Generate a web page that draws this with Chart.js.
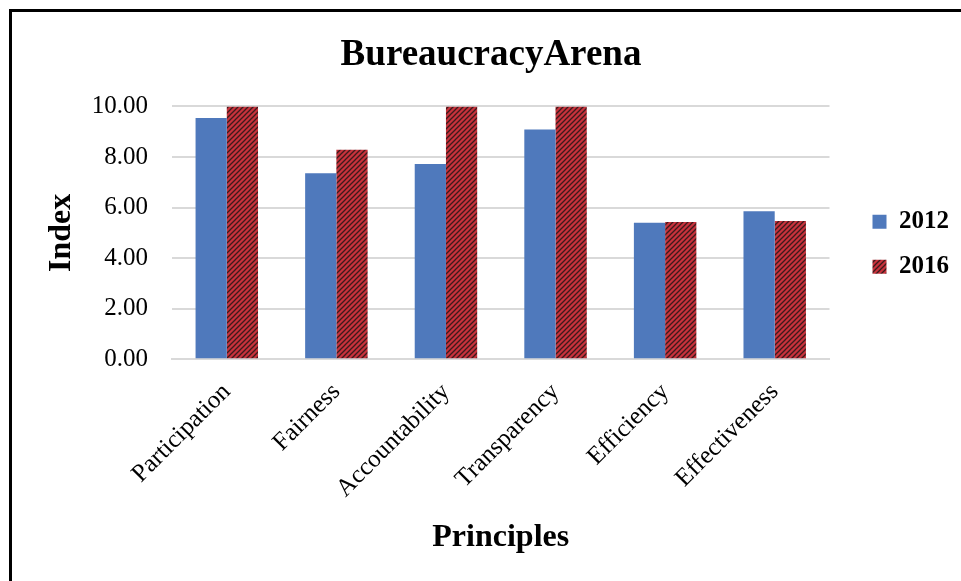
<!DOCTYPE html>
<html>
<head>
<meta charset="utf-8">
<script src="https://cdn.jsdelivr.net/npm/chart.js@4.4.1/dist/chart.umd.min.js"></script>
<style>
  html, body { margin: 0; padding: 0; background: #fff; overflow: hidden; }
  #wrap { position: relative; width: 961px; height: 581px; overflow: hidden; }
  #frame { position: absolute; left: 9px; top: 9px; width: 1000px; height: 700px;
           border-left: 3px solid #000; border-top: 3px solid #000; }
  #box { position: absolute; left: 0; top: 0; width: 959px; height: 581px; }
</style>
</head>
<body>
<div id="wrap">
  <div id="frame"></div>
  <div id="box"><canvas id="chartPrinciplesHTML"></canvas></div>
</div>
<script>
// values
const principles = ['Participation', 'Fairness', 'Accountability', 'Transparency', 'Efficiency', 'Effectiveness'];
const seriesNames = ['2012', '2016'];
const values2012 = [9.54, 7.36, 7.72, 9.09, 5.40, 5.85];
const values2016 = [10.00, 8.29, 10.00, 10.00, 5.43, 5.47];
const yTicks = [0, 2, 4, 6, 8, 10];

function hatchPattern(){
  const c = document.createElement('canvas');
  c.width = 5; c.height = 5;
  const g = c.getContext('2d');
  g.fillStyle = '#c8323c';
  g.fillRect(0, 0, 5, 5);
  g.strokeStyle = '#3c1a1c';
  g.lineWidth = 1.3;
  g.beginPath();
  g.moveTo(-1, 6); g.lineTo(6, -1);
  g.moveTo(-3.5, 3.5); g.lineTo(3.5, -3.5);
  g.moveTo(1.5, 8.5); g.lineTo(8.5, 1.5);
  g.stroke();
  return g.createPattern(c, 'repeat');
}

const serif = "'Liberation Serif', 'Times New Roman', serif";
const hatch = hatchPattern();

const chartPrinciples = new Chart(
  document.getElementById('chartPrinciplesHTML'),
  {
    type: 'bar',
    data: {
      labels: principles,
      datasets: [
        { label: seriesNames[0], data: values2012, backgroundColor: '#4f79bc', borderWidth: 0 },
        { label: seriesNames[1], data: values2016, backgroundColor: hatch, borderWidth: 0 }
      ]
    },
    options: {
      animation: false,
      responsive: true,
      maintainAspectRatio: false,
      layout: { padding: { left: 23, right: 0, top: 10, bottom: 24 } },
      datasets: { bar: { categoryPercentage: 0.57, barPercentage: 1.0 } },
      scales: {
        x: {
          grid: { display: false },
          border: { display: true, color: '#d9d9d9', width: 2 },
          ticks: { color: '#000', font: { family: serif, size: 25 }, minRotation: 45, maxRotation: 45, padding: 10 },
          title: { display: true, text: 'Principles', color: '#000', font: { family: serif, size: 32, weight: 'bold' }, padding: { top: 5, bottom: 0 } }
        },
        y: {
          min: 0, max: 10,
          afterBuildTicks: (s) => { s.ticks = yTicks.map(v => ({ value: v })); },
          afterFit: (s) => { s.width = 149; },
          grid: { color: '#d9d9d9', lineWidth: 2, drawTicks: false },
          border: { display: false },
          ticks: { color: '#000', font: { family: serif, size: 25 }, padding: 24, callback: (v) => Number(v).toFixed(2) },
          title: { display: true, text: 'Index', color: '#000', font: { family: serif, size: 32, weight: 'bold' }, padding: { top: 20, bottom: 0 } }
        },
        y2: {
          position: 'right',
          display: true,
          grid: { display: false, drawTicks: false },
          border: { display: false },
          ticks: { display: false },
          afterFit: (s) => { s.width = 23; }
        }
      },
      plugins: {
        title: {
          display: true, text: 'BureaucracyArena', color: '#000',
          font: { family: serif, size: 37, weight: 'bold' },
          padding: { top: 23, bottom: 29 }
        },
        legend: {
          position: 'right',
          align: 'start',
          title: { display: true, text: ' ', font: { size: 16 }, padding: { top: 160, bottom: 0 } },
          labels: { color: '#000', font: { family: serif, size: 25, weight: 'bold' }, boxWidth: 14, boxHeight: 14, padding: 20 }
        },
        tooltip: { enabled: false }
      }
    }
  }
);
</script>
</body>
</html>
